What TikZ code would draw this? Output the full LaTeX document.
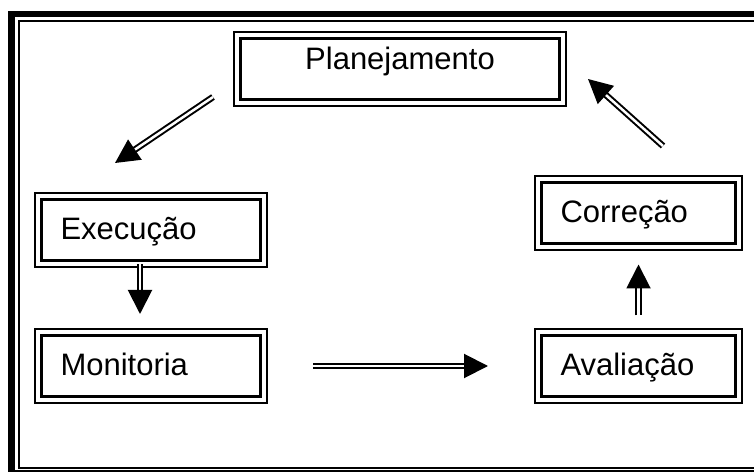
\documentclass[tikz,border=0pt]{standalone}
\usepackage{fontspec}
\setmainfont{Liberation Sans}
\usetikzlibrary{positioning}
\usetikzlibrary{arrows.meta}
\usetikzlibrary{calc}

\begin{document}
\begin{tikzpicture}[%
    x=1pt, y=1pt,
    font=\fontsize{31}{36}\selectfont,
dbox/.style={rectangle, draw, line width=3pt, minimum height=61pt, inner xsep=19pt, align=left, text height=21pt, text depth=2pt,
  append after command={\pgfextra{\draw[line width=2pt] ($(\tikzlastnode.north west)+(-5pt,5pt)$) rectangle ($(\tikzlastnode.south east)+(5pt,-5pt)$);}}},
arr/.style={double, double distance=2.5pt, line width=2pt, -{Triangle[length=24pt, width=24pt]}}
]

\useasboundingbox (0,0) rectangle (754,471);

% frame
\draw[line width=6.5pt] (11.25,457) rectangle (780,-2.5);
\draw[line width=2pt] (18.5,449.5) rectangle (770,3);

% plan box
\node[dbox, minimum width=319pt, align=center, text depth=20pt, inner xsep=0pt] (planejamento) at (400,401.5) {Planejamento};

% cycle boxes
\node[dbox, text width=181pt] (execucao) at (151,240.5) {Execução};
\node[dbox, text width=181pt] (monitoria) [below=71.5pt of execucao] {Monitoria};
\node[dbox, text width=156pt] (avaliacao) [right=278pt of monitoria] {Avaliação};
\node[dbox, text width=156pt] (correcao) [above=88.5pt of avaliacao] {Correção};

% free ends of the slanted arrows
\coordinate (planout) at (213,374);
\coordinate (execin) at (115,308);
\coordinate (corrout) at (663,325);
\coordinate (planin) at (588,392);

% arrows
\draw[arr] (planout) -- (execin);
\draw[arr, shorten <=2pt, shorten >=20pt] ([xshift=-11pt]execucao.south) -- ([xshift=-11pt]monitoria.north);
\draw[arr, shorten <=51pt, shorten >=52pt] (monitoria.east) -- (avaliacao.west);
\draw[arr, shorten <=18.5pt, shorten >=19pt] (avaliacao.north) -- (correcao.south);
\draw[arr] (corrout) -- (planin);

\end{tikzpicture}
\end{document}
